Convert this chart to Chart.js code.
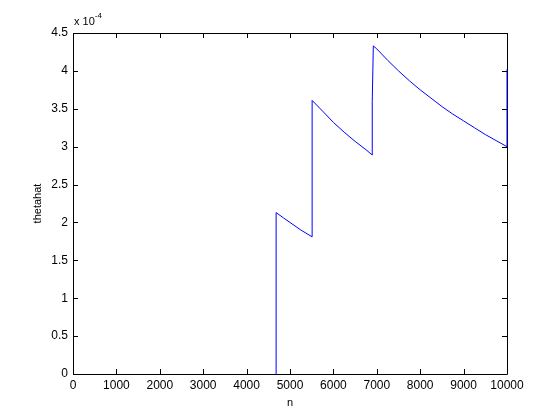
<!DOCTYPE html>
<html>
<head>
<meta charset="utf-8">
<script src="https://cdn.jsdelivr.net/npm/chart.js@4"></script>
<style>
    html, body { margin: 0; padding: 0; background: #ffffff; }
    #wrap { width: 560px; height: 420px; }
</style>
</head>
<body>
<div id="wrap"><canvas id="thetaChart" width="560" height="420"></canvas></div>
<script>
// n on the x axis, thetahat in units of 1e-4 on the y axis
const nValues = [4680, 4680, 4850, 5000, 5250, 5510, 5510, 5750, 6000, 6250, 6500, 6750, 6895,
    6895, 6920, 7000, 7250, 7500, 7750, 8000, 8250, 8500, 8750, 9000, 9250, 9500, 9750, 10000, 10000];
const thetaValues = [0, 2.13, 2.06, 2.00, 1.90, 1.81, 3.61, 3.47, 3.32, 3.19, 3.07, 2.96, 2.89,
    3.60, 4.33, 4.29, 4.14, 4.00, 3.87, 3.75, 3.64, 3.53, 3.43, 3.34, 3.25, 3.16, 3.08, 3.00, 4.02];
const xTicks = [0, 1000, 2000, 3000, 4000, 5000, 6000, 7000, 8000, 9000, 10000];
const yTicks = [0, 0.5, 1, 1.5, 2, 2.5, 3, 3.5, 4, 4.5];

const FONT = 'Liberation Sans';

const points = nValues.map((n, i) => ({ x: n, y: thetaValues[i] }));

// matlab style box with inward ticks on all four sides + exponent label
const boxPlugin = {
    id: 'matlabBox',
    beforeDatasetsDraw(chart) {
        const { ctx, chartArea: a, scales } = chart;
        ctx.save();
        ctx.strokeStyle = '#000000';
        ctx.lineWidth = 1;
        ctx.beginPath();
        ctx.rect(Math.round(a.left) + 0.5, Math.round(a.top) + 0.5,
            Math.round(a.right - a.left), Math.round(a.bottom - a.top));
        const len = 5;
        xTicks.forEach(v => {
            const px = Math.round(scales.x.getPixelForValue(v)) + 0.5;
            ctx.moveTo(px, a.bottom);
            ctx.lineTo(px, a.bottom - len);
            ctx.moveTo(px, a.top);
            ctx.lineTo(px, a.top + len);
        });
        yTicks.forEach(v => {
            const py = Math.round(scales.y.getPixelForValue(v)) + 0.5;
            ctx.moveTo(a.left, py);
            ctx.lineTo(a.left + len, py);
            ctx.moveTo(a.right, py);
            ctx.lineTo(a.right - len, py);
        });
        ctx.stroke();

        ctx.fillStyle = '#000000';
        ctx.textBaseline = 'alphabetic';
        ctx.textAlign = 'left';
        ctx.font = '11px "' + FONT + '"';
        ctx.fillText('x 10', a.left + 1, a.top - 8);
        const w = ctx.measureText('x 10').width;
        ctx.font = '8px "' + FONT + '"';
        ctx.fillText('-4', a.left + 1 + w, a.top - 15);
        ctx.restore();
    }
};

const ctx = document.getElementById('thetaChart').getContext('2d');
new Chart(ctx, {
    type: 'line',
    data: {
        datasets: [{
            label: 'thetahat',
            data: points,
            borderColor: '#0000ff',
            borderWidth: 1,
            pointRadius: 0,
            tension: 0,
            fill: false,
            clip: false
        }]
    },
    options: {
        responsive: false,
        animation: false,
        layout: { padding: { top: 33, right: 53, left: 0, bottom: 0 } },
        scales: {
            x: {
                type: 'linear',
                min: 0,
                max: 10000,
                afterBuildTicks: (scale) => { scale.ticks = xTicks.map(v => ({ value: v })); },
                afterFit: (scale) => { scale.height = 46; },
                grid: { display: false, drawTicks: false },
                border: { display: false },
                ticks: {
                    color: '#000000',
                    padding: 4,
                    maxRotation: 0,
                    autoSkip: false,
                    font: { family: FONT, size: 12 },
                    callback: (v) => String(v)
                },
                title: {
                    display: true,
                    text: 'n',
                    color: '#000000',
                    font: { family: FONT, size: 11 },
                    padding: { top: 0, bottom: 10 }
                }
            },
            y: {
                min: 0,
                max: 4.5,
                afterBuildTicks: (scale) => { scale.ticks = yTicks.map(v => ({ value: v })); },
                afterFit: (scale) => { scale.width = 73; },
                grid: { display: false, drawTicks: false },
                border: { display: false },
                ticks: {
                    color: '#000000',
                    padding: 5,
                    autoSkip: false,
                    font: { family: FONT, size: 12 },
                    callback: (v) => String(v)
                },
                title: {
                    display: true,
                    text: 'thetahat',
                    color: '#000000',
                    font: { family: FONT, size: 11 },
                    padding: { top: 31, bottom: 0 }
                }
            }
        },
        plugins: {
            legend: { display: false },
            tooltip: { enabled: false },
            title: { display: false }
        }
    },
    plugins: [boxPlugin]
});
</script>
</body>
</html>
